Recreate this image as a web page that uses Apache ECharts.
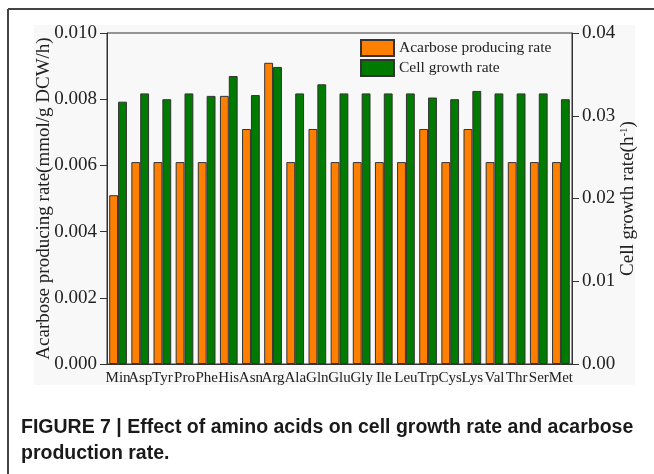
<!DOCTYPE html>
<html>
<head>
<meta charset="utf-8">
<script src="https://cdn.jsdelivr.net/npm/echarts@6/dist/echarts.min.js"></script>
<style>
    html, body { margin: 0; padding: 0; background: #fff; }
    #chart { width: 654px; height: 474px; }
</style>
</head>
<body>
<div id="chart"></div>
<script>
// amino acids added to the medium
const aminoAcids = ['Min', 'Asp', 'Tyr', 'Pro', 'Phe', 'His', 'Asn', 'Arg', 'Ala', 'Gln', 'Glu',
    'Gly', 'Ile', 'Leu', 'Trp', 'Cys', 'Lys', 'Val', 'Thr', 'Ser', 'Met'];

// mmol/g DCW/h (left axis)
const acarboseRate = [0.0051, 0.0061, 0.0061, 0.0061, 0.0061, 0.0081, 0.0071, 0.0091, 0.0061, 0.0071, 0.0061,
    0.0061, 0.0061, 0.0061, 0.0071, 0.0061, 0.0071, 0.0061, 0.0061, 0.0061, 0.0061];

// h-1 (right axis)
const growthRate = [0.0317, 0.0327, 0.0320, 0.0327, 0.0324, 0.0348, 0.0325, 0.0359, 0.0327, 0.0338, 0.0327,
    0.0327, 0.0327, 0.0327, 0.0322, 0.0320, 0.0330, 0.0327, 0.0327, 0.0327, 0.0320];

const serif = 'Liberation Serif, Times New Roman, serif';

const chart = echarts.init(document.getElementById('chart'));

const option = {
    animation: false,
    backgroundColor: '#fff',
    title: {
        text: 'FIGURE 7 | Effect of amino acids on cell growth rate and acarbose\nproduction rate.',
        left: 16,
        top: 410,
        textStyle: {
            fontFamily: 'Liberation Sans, Arial, sans-serif',
            fontWeight: 'bold',
            fontSize: 19.5,
            lineHeight: 26,
            color: '#1a1a1a'
        }
    },
    graphic: [
        // page frame + figure background
        { type: 'rect', shape: { x: 34, y: 25, width: 601, height: 360 }, style: { fill: '#f8f8f8' }, z: -10 },
        { type: 'line', shape: { x1: 8, y1: 9, x2: 654, y2: 9 }, style: { stroke: '#444', lineWidth: 2 } },
        { type: 'line', shape: { x1: 8, y1: 9, x2: 8, y2: 474 }, style: { stroke: '#444', lineWidth: 2 } }
    ],
    legend: {
        orient: 'vertical',
        left: 355,
        top: 34,
        itemWidth: 33,
        itemHeight: 16,
        itemGap: 2,
        icon: 'rect',
        textStyle: { fontFamily: serif, fontSize: 15.5, color: '#222' },
        data: ['Acarbose producing rate', 'Cell growth rate']
    },
    grid: {
        left: 107,
        right: 82,
        top: 33,
        bottom: 110,
        show: true,
        borderColor: '#333',
        borderWidth: 1
    },
    xAxis: {
        type: 'category',
        data: aminoAcids,
        axisLine: { lineStyle: { color: '#333' } },
        axisTick: { show: false },
        axisLabel: { interval: 0, fontFamily: serif, fontSize: 15, color: '#222', margin: 7 }
    },
    yAxis: [
        {
            type: 'value',
            min: 0,
            max: 0.01,
            interval: 0.002,
            name: 'Acarbose producing rate(mmol/g DCW/h)',
            nameLocation: 'middle',
            nameGap: 53,
            nameMoveOverlap: false,
            nameTextStyle: { fontFamily: serif, fontSize: 19, color: '#222' },
            axisLine: { show: true, lineStyle: { color: '#333' } },
            axisTick: { show: true, length: 7, lineStyle: { color: '#333' } },
            splitLine: { show: false },
            axisLabel: {
                fontFamily: serif, fontSize: 19, color: '#222', margin: 10,
                formatter: v => v.toFixed(3)
            }
        },
        {
            type: 'value',
            position: 'right',
            min: 0,
            max: 0.04,
            interval: 0.01,
            name: '{a|Cell growth rate(h}{s|-1}{a|)}',
            nameLocation: 'middle',
            nameGap: 47,
            nameMoveOverlap: false,
            nameTextStyle: {
                fontFamily: serif, color: '#222',
                rich: {
                    a: { fontFamily: serif, fontSize: 19, color: '#222' },
                    s: { fontFamily: serif, fontSize: 11, color: '#222', verticalAlign: 'top' }
                }
            },
            axisLine: { show: true, lineStyle: { color: '#333' } },
            axisTick: { show: true, length: 7, lineStyle: { color: '#333' } },
            splitLine: { show: false },
            axisLabel: {
                fontFamily: serif, fontSize: 19, color: '#222', margin: 10,
                formatter: v => v.toFixed(2)
            }
        }
    ],
    series: [
        {
            name: 'Acarbose producing rate',
            type: 'bar',
            yAxisIndex: 0,
            data: acarboseRate,
            barGap: '0%',
            barCategoryGap: '20%',
            itemStyle: { color: '#ff8000', borderColor: '#333', borderWidth: 1 }
        },
        {
            name: 'Cell growth rate',
            type: 'bar',
            yAxisIndex: 1,
            data: growthRate,
            barGap: '0%',
            barCategoryGap: '20%',
            itemStyle: { color: '#007a00', borderColor: '#333', borderWidth: 1 }
        }
    ]
};

chart.setOption(option);
</script>
</body>
</html>
